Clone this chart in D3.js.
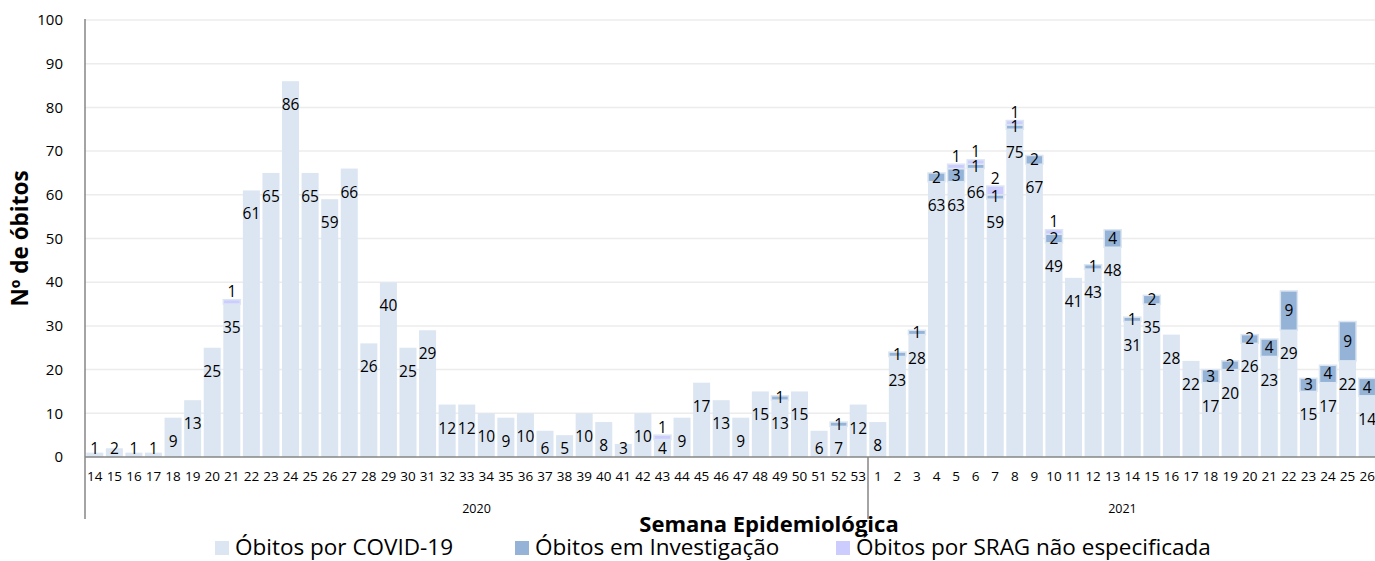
<!DOCTYPE html>
<html>
<head>
<meta charset="utf-8">
<script src="https://cdn.jsdelivr.net/npm/d3@7"></script>
<style>
  html, body { margin: 0; padding: 0; background: #fff; }
  svg { display: block; }
  text { font-family: "Open Sans", "Liberation Sans", sans-serif; }
</style>
</head>
<body>
<svg id="chart" width="1375" height="561"></svg>
<script>
// ---- Data ----
const weeks2020 = [14,15,16,17,18,19,20,21,22,23,24,25,26,27,28,29,30,31,32,33,34,35,36,37,38,39,40,41,42,43,44,45,46,47,48,49,50,51,52,53];
const weeks2021 = [1,2,3,4,5,6,7,8,9,10,11,12,13,14,15,16,17,18,19,20,21,22,23,24,25,26];
const years = ["2020", "2021"];

const covid2020 = [1,2,1,1,9,13,25,35,61,65,86,65,59,66,26,40,25,29,12,12,10,9,10,6,5,10,8,3,10,4,9,17,13,9,15,13,15,6,7,12];
const covid2021 = [8,23,28,63,63,66,59,75,67,49,41,43,48,31,35,28,22,17,20,26,23,29,15,17,22,14];

const invest2020 = [0,0,0,0,0,0,0,0,0,0,0,0,0,0,0,0,0,0,0,0,0,0,0,0,0,0,0,0,0,0,0,0,0,0,0,1,0,0,1,0];
const invest2021 = [0,1,1,2,3,1,1,1,2,2,0,1,4,1,2,0,0,3,2,2,4,9,3,4,9,4];

const srag2020 = [0,0,0,0,0,0,0,1,0,0,0,0,0,0,0,0,0,0,0,0,0,0,0,0,0,0,0,0,0,1,0,0,0,0,0,0,0,0,0,0];
const srag2021 = [0,0,0,0,1,1,2,1,0,1,0,0,0,0,0,0,0,0,0,0,0,0,0,0,0,0];

const seriesNames = ["Óbitos por COVID-19", "Óbitos em Investigação", "Óbitos por SRAG não especificada"];
const yTicks = [0,10,20,30,40,50,60,70,80,90,100];

// ---- Build table ----
const rows = [];
weeks2020.forEach((w, i) => rows.push({key: "2020-" + w, week: w, year: "2020", covid: covid2020[i], invest: invest2020[i], srag: srag2020[i]}));
weeks2021.forEach((w, i) => rows.push({key: "2021-" + w, week: w, year: "2021", covid: covid2021[i], invest: invest2021[i], srag: srag2021[i]}));

const colors = {covid: "#dce6f2", invest: "#95b3d7", srag: "#ccccff"};

const svg = d3.select("#chart");
const left = 85, band = 19.575;
const x = d3.scaleBand().domain(rows.map(d => d.key)).range([left, left + rows.length * band]).paddingInner(0.13).paddingOuter(0.065);
const y = d3.scaleLinear().domain([0, 100]).range([457, 20]);

// gridlines
svg.append("g").selectAll("line").data(yTicks.filter(t => t > 0)).join("line")
  .attr("x1", left).attr("x2", 1375)
  .attr("y1", d => y(d)).attr("y2", d => y(d))
  .attr("stroke", "#ececec").attr("stroke-width", 1.5);

// y tick labels
svg.append("g").selectAll("text").data(yTicks).join("text")
  .attr("x", 63).attr("y", d => y(d)).attr("dy", "0.35em")
  .attr("text-anchor", "end").attr("font-size", 15).attr("fill", "#000")
  .text(d => d);

// stacked bars
const stack = d3.stack().keys(["covid", "invest", "srag"]);
const stacked = stack(rows);
const gBars = svg.append("g");
stacked.forEach(layer => {
  gBars.append("g").selectAll("rect").data(layer.filter(d => d[1] - d[0] > 0)).join("rect")
    .attr("x", d => x(d.data.key)).attr("width", x.bandwidth())
    .attr("y", d => y(d[1])).attr("height", d => y(d[0]) - y(d[1]))
    .attr("fill", colors[layer.key])
    .attr("stroke", layer.key === "covid" ? "none" : "#dce6f2")
    .attr("stroke-width", 1.5);
});

// labels
const gLab = svg.append("g").attr("font-size", 15.5).attr("fill", "#000").attr("text-anchor", "middle");
rows.forEach(d => {
  const cx = x(d.key) + x.bandwidth() / 2;
  gLab.append("text").attr("x", cx).attr("y", y(Math.max(d.covid - 5.4, 1.9))).attr("dy", "0.35em").text(d.covid);
  if (d.invest > 0) {
    gLab.append("text").attr("x", cx).attr("y", y(d.covid + d.invest / 2)).attr("dy", "0.35em").text(d.invest);
  }
  if (d.srag > 0) {
    gLab.append("text").attr("x", cx).attr("y", y(d.covid + d.invest + d.srag + 1.8)).attr("dy", "0.35em").text(d.srag);
  }
});

// axes lines
const axisColor = "#868686";
svg.append("line").attr("x1", left).attr("x2", 1375).attr("y1", y(0)).attr("y2", y(0)).attr("stroke", axisColor).attr("stroke-width", 1.5);
svg.append("line").attr("x1", left).attr("x2", left).attr("y1", y(100) - 1).attr("y2", 519).attr("stroke", axisColor).attr("stroke-width", 1.5);
const sepX = left + weeks2020.length * band;
svg.append("line").attr("x1", sepX).attr("x2", sepX).attr("y1", y(0)).attr("y2", 519).attr("stroke", axisColor).attr("stroke-width", 1.5);

// week tick labels
svg.append("g").selectAll("text").data(rows).join("text")
  .attr("x", d => x(d.key) + x.bandwidth() / 2).attr("y", 476).attr("dy", "0.35em")
  .attr("text-anchor", "middle").attr("font-size", 13.5).attr("fill", "#000")
  .attr("font-family", "'Liberation Sans Narrow', 'Open Sans', sans-serif")
  .text(d => d.week);

// year labels
const yearCenters = [ (left + sepX) / 2, (sepX + left + rows.length * band) / 2 ];
svg.append("g").selectAll("text").data(years).join("text")
  .attr("x", (d, i) => yearCenters[i]).attr("y", 509).attr("dy", "0.35em")
  .attr("text-anchor", "middle").attr("font-size", 12.5).attr("fill", "#000")
  .text(d => d);

// axis titles
svg.append("text").attr("x", 769).attr("y", 532)
  .attr("text-anchor", "middle").attr("font-size", 22).attr("font-weight", "bold").attr("fill", "#000")
  .text("Semana Epidemiológica");
svg.append("text").attr("transform", "translate(28,238.5) rotate(-90)")
  .attr("text-anchor", "middle").attr("font-size", 22.5).attr("font-weight", "bold").attr("fill", "#000")
  .text("Nº de óbitos");

// legend
const legendX = [215, 515, 836];
const legendKeys = ["covid", "invest", "srag"];
const lg = svg.append("g");
seriesNames.forEach((name, i) => {
  lg.append("rect").attr("x", legendX[i]).attr("y", 541).attr("width", 14).attr("height", 14).attr("fill", colors[legendKeys[i]]);
  lg.append("text").attr("x", legendX[i] + 20).attr("y", 555)
    .attr("font-size", 22.5).attr("fill", "#000").text(name);
});
</script>
</body>
</html>
